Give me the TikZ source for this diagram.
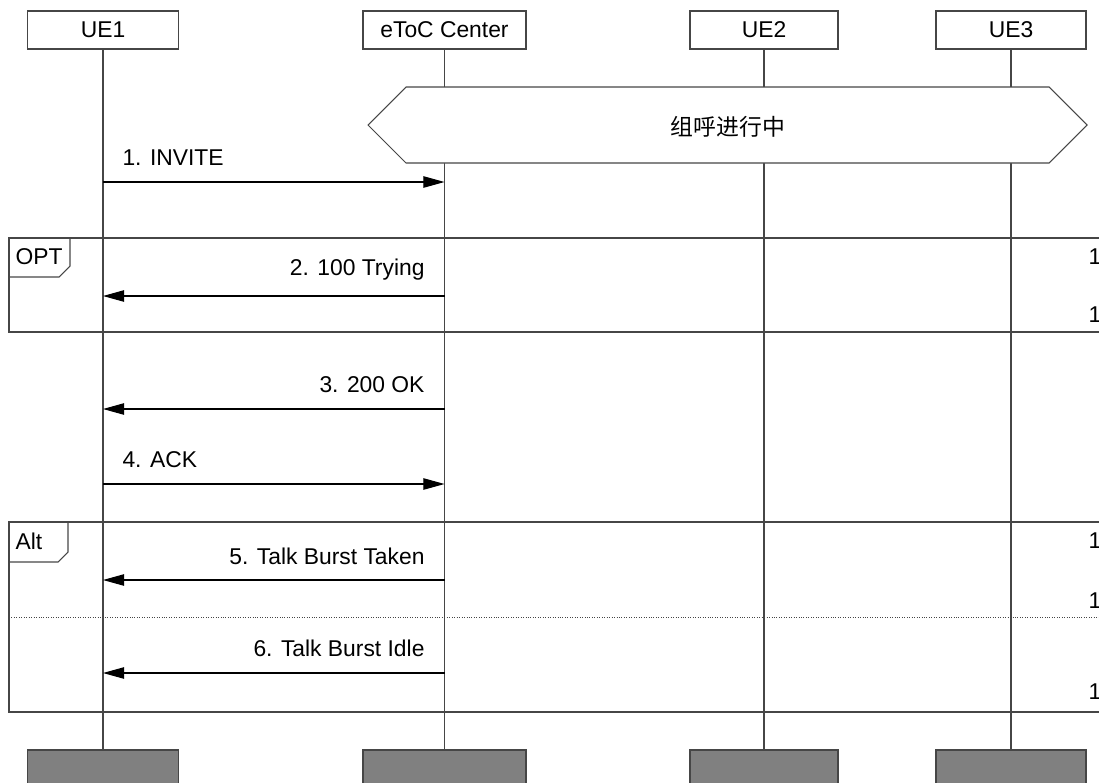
\documentclass[tikz,border=0pt]{standalone}
\usepackage{fontspec}
\setmainfont{Liberation Sans}
\newfontfamily\cjk{Noto Sans CJK SC}
\usetikzlibrary{arrows.meta,positioning,calc}
\definecolor{lifegray}{RGB}{70,70,70}
\definecolor{footgray}{RGB}{128,128,128}

\begin{document}
\begin{tikzpicture}[
  x=0.02cm, y=-0.02cm,
  line width=0.6pt,
  head/.style={rectangle, draw=lifegray, fill=white, minimum height=0.76cm, inner sep=0pt, font=\fontsize{13}{15}\selectfont},
  foot/.style={rectangle, draw=lifegray, fill=footgray, minimum height=0.8cm, inner sep=0pt},
  life/.style={draw=lifegray},
  frame/.style={draw=lifegray},
  msg/.style={-{Triangle[length=12pt,width=6.5pt]}, black},
  lbl/.style={font=\fontsize{13}{15}\selectfont, inner sep=0pt},
  cut/.style={font=\fontsize{13}{15}\selectfont, inner sep=0pt, anchor=west}
]
  \useasboundingbox (0,0) rectangle (1099,782);
  \clip (0,0) rectangle (1099,782);

  % --- lanes ---
  \node[head, minimum width=3.02cm] (ue1) at (103,30) {UE1};
  \node[head, minimum width=3.26cm] (etoc) at (444.5,30) {eToC Center};
  \node[head, minimum width=2.96cm] (ue2) at (764,30) {UE2};
  \node[head, minimum width=3cm] (ue3) at (1011,30) {UE3};

  \node[foot, minimum width=3.02cm] (ue1f) at (103,770) {};
  \node[foot, minimum width=3.26cm] (etocf) at (444.5,770) {};
  \node[foot, minimum width=2.96cm] (ue2f) at (764,770) {};
  \node[foot, minimum width=3cm] (ue3f) at (1011,770) {};

  \foreach \lane in {ue1,etoc,ue2,ue3}
    \draw[life] (\lane.south) -- (\lane f.north);

  % --- group call state ---
  \draw[draw=lifegray, fill=white] (368,125) -- (406,87) -- (1049,87) -- (1087,125) -- (1049,163) -- (406,163) -- cycle;
  \node[lbl, font=\cjk\fontsize{13}{15}\selectfont] (state) at (728,127) {组呼进行中};

  % --- message levels ---
  \foreach \n/\y in {1/182,2/296,3/409,4/484,5/580,6/673} {
    \coordinate (a\n) at (ue1 |- 0,\y);
    \coordinate (b\n) at (etoc |- 0,\y);
  }

  % 1. INVITE
  \draw[msg] (a1) -- (b1);
  \node[lbl, anchor=west] (l1) at (122,158) {1. INVITE};

  % OPT frame
  \draw[frame] (9,238) rectangle (1120,332);
  \draw[frame] (9,277) -- (59,277) -- (70,266) -- (70,238);
  \node[lbl, anchor=west] (opt) at (15,257) {OPT};
  \draw[msg] (b2) -- (a2);
  \node[lbl, anchor=east] (l2) at (425,270) {2. 100 Trying};
  \node[cut] (c1) at (1088,257) {1};
  \node[cut] (c2) at (1088,315) {1};

  % 3. 200 OK / 4. ACK
  \draw[msg] (b3) -- (a3);
  \node[lbl, anchor=east] (l3) at (425,385) {3. 200 OK};
  \draw[msg] (a4) -- (b4);
  \node[lbl, anchor=west] (l4) at (122,460) {4. ACK};

  % Alt frame
  \draw[frame] (9,522) rectangle (1120,712);
  \draw[frame] (9,562) -- (58,562) -- (68,552) -- (68,522);
  \draw[lifegray, densely dotted, line width=0.4pt] (9,617) -- (1120,617);
  \node[lbl, anchor=west] (alt) at (15,541) {Alt};
  \draw[msg] (b5) -- (a5);
  \node[lbl, anchor=east] (l5) at (425,556) {5. Talk Burst Taken};
  \draw[msg] (b6) -- (a6);
  \node[lbl, anchor=east] (l6) at (425,648) {6. Talk Burst Idle};
  \node[cut] (c3) at (1088,541) {1};
  \node[cut] (c4) at (1088,601) {1};
  \node[cut] (c5) at (1088,692) {1};
\end{tikzpicture}
\end{document}
